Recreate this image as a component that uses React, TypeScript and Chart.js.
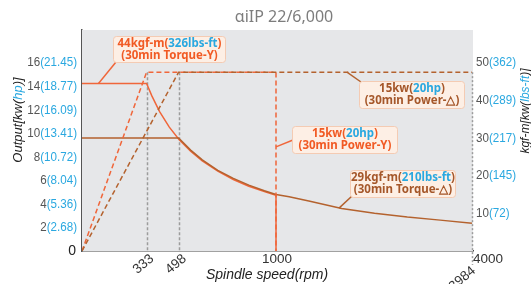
import React, { useEffect, useRef } from "react";
import { Chart, registerables, LinearScale } from "chart.js";

// ---------------- DATA ----------------
const chartTitle = "αiIP 22/6,000";

// 30min Torque-Y (kgf-m) vs spindle speed (rpm)
const speedTorqueY = [0, 333, 360, 400, 450, 500, 560, 620, 700, 780, 860, 940, 1000, 1000];
const torqueY = [44.5, 44.5, 41.2, 37.0, 32.9, 29.6, 26.5, 23.9, 21.2, 19.0, 17.2, 15.8, 14.8, 0];

// 30min Torque-Δ (kgf-m)
const speedTorqueD = [0, 498, 560, 620, 700, 780, 860, 940, 1000, 1200, 1500, 2000, 2500, 3000, 3500, 3984];
const torqueD = [30, 30, 26.8, 24.2, 21.4, 19.3, 17.5, 16.0, 15.0, 14.4, 13.3, 11.3, 10.0, 9.0, 8.2, 7.4];

// 30min Power-Y (kW)
const speedPowerY = [0, 333, 1000, 1000];
const powerY = [0, 15.2, 15.2, 0];

// 30min Power-Δ (kW)
const speedPowerD = [0, 498, 3984];
const powerD = [0, 15.2, 15.2];

// marker speeds (gray verticals)
const markerSpeeds = [333, 498, 3984];
const markerTop = 15.2;

// tick labels
const leftTicks = [2, 4, 6, 8, 10, 12, 14, 16];
const leftTicksHp = ["2.68", "5.36", "8.04", "10.72", "13.41", "16.09", "18.77", "21.45"];
const rightTicks = [10, 20, 30, 40, 50];
const rightTicksLbs = ["72", "145", "217", "289", "362"];
const xTicks = [333, 498, 1000, 3984, 4000];

// annotation texts
const annTorqueY = ["44kgf-m", "326lbs-ft", "(30min Torque-Y)"];
const annPowerD = ["15kw", "20hp", "(30min Power-△)"];
const annPowerY = ["15kw", "20hp", "(30min Power-Y)"];
const annTorqueD = ["29kgf-m", "210lbs-ft", "(30min Torque-△)"];

// ---------------- STYLE ----------------
const ORANGE = "#f0663a";
const BROWN = "#b4622e";
const ORANGE_TXT = "#f15a24";
const BROWN_TXT = "#a5572a";
const BLUE = "#2aa8e0";
const GRAY_TXT = "#555555";
const BG = "#e6e7e9";
const SPLIT = 194 / 391;
const NARROW = 0.86;

class SplitScale extends LinearScale {
  static id = "split";
  static defaults = { ticks: { callback: (v: any) => String(v) } };
  getPixelForValue(value: number) {
    if (value === null || value === undefined || isNaN(value)) return NaN;
    const f = value <= 1000 ? (value / 1000) * SPLIT : SPLIT + ((value - 1000) / 3000) * (1 - SPLIT);
    return this.getPixelForDecimal(f);
  }
  getValueForPixel(pixel: number) {
    const f = this.getDecimalForPixel(pixel);
    return f <= SPLIT ? (f / SPLIT) * 1000 : 1000 + ((f - SPLIT) / (1 - SPLIT)) * 3000;
  }
}

Chart.register(...registerables, SplitScale);

const pts = (xs: number[], ys: number[]) => xs.map((x, i) => ({ x, y: ys[i] }));

type Part = [string, string];
function drawRich(ctx: CanvasRenderingContext2D, parts: Part[], x: number, y: number, align: "left" | "right" | "center", sx = 1) {
  const total = parts.reduce((s, p) => s + ctx.measureText(p[0]).width, 0) * sx;
  const start = align === "left" ? x : align === "right" ? x - total : x - total / 2;
  ctx.save();
  ctx.translate(start, y);
  ctx.scale(sx, 1);
  ctx.textAlign = "left";
  let cx = 0;
  for (const [t, c] of parts) {
    ctx.fillStyle = c;
    ctx.fillText(t, cx, 0);
    cx += ctx.measureText(t).width;
  }
  ctx.restore();
}

function roundRect(ctx: CanvasRenderingContext2D, x: number, y: number, w: number, h: number, r: number) {
  ctx.beginPath();
  ctx.moveTo(x + r, y);
  ctx.lineTo(x + w - r, y);
  ctx.arcTo(x + w, y, x + w, y + r, r);
  ctx.lineTo(x + w, y + h - r);
  ctx.arcTo(x + w, y + h, x + w - r, y + h, r);
  ctx.lineTo(x + r, y + h);
  ctx.arcTo(x, y + h, x, y + h - r, r);
  ctx.lineTo(x, y + r);
  ctx.arcTo(x, y, x + r, y, r);
  ctx.closePath();
}

const annotations = [
  { texts: annTorqueY, color: ORANGE_TXT, line: ORANGE, anchor: { x: 85, y: 44.5, axis: "y1" }, box: { x: 113, y: 36, w: 112, h: 26 }, end: { x: 116, y: 62 } },
  { texts: annPowerD, color: BROWN_TXT, line: BROWN, anchor: { x: 2080, y: 15.2, axis: "y" }, box: { x: 359, y: 81, w: 105, h: 27 }, end: { x: 361, y: 82 } },
  { texts: annPowerY, color: ORANGE_TXT, line: ORANGE, anchor: { x: 1000, y: 8.85, axis: "y" }, box: { x: 292, y: 126, w: 105, h: 27 }, end: { x: 293, y: 140 } },
  { texts: annTorqueD, color: BROWN_TXT, line: BROWN, anchor: { x: 1960, y: 11.4, axis: "y1" }, box: { x: 350, y: 170, w: 105, h: 27 }, end: { x: 352, y: 196 } },
];

const xTickLayout: Record<number, { rot: boolean; dx: number; dy: number; align: "left" | "right" | "center" }> = {
  333: { rot: true, dx: 5.5, dy: 6, align: "right" },
  498: { rot: true, dx: 6, dy: 6, align: "right" },
  1000: { rot: false, dx: 1, dy: 8, align: "center" },
  3984: { rot: true, dx: 2, dy: 18, align: "right" },
  4000: { rot: false, dx: 0, dy: 8, align: "left" },
};

const decorPlugin = {
  id: "decor",
  beforeDatasetsDraw(chart: any) {
    const { ctx, chartArea: a, scales } = chart;
    ctx.save();
    ctx.fillStyle = BG;
    ctx.fillRect(a.left, a.top, a.right - a.left, a.bottom - a.top);
    const x = scales.x, y = scales.y;
    markerSpeeds.forEach((s) => {
      const px = Math.round(x.getPixelForValue(s)) + 0.5;
      ctx.beginPath();
      ctx.strokeStyle = "#9c9c9c";
      ctx.lineWidth = 1.5;
      ctx.setLineDash(s === 3984 ? [2, 2] : [3, 2]);
      ctx.moveTo(px, y.getPixelForValue(markerTop));
      ctx.lineTo(px, s === 3984 ? a.bottom + 14 : a.bottom);
      ctx.stroke();
    });
    ctx.restore();
  },
  afterDraw(chart: any) {
    const { ctx, chartArea: a, scales } = chart;
    const x = scales.x, y = scales.y, y1 = scales.y1;
    ctx.save();
    ctx.textBaseline = "middle";
    // title
    ctx.font = '16px "Noto Sans", sans-serif';
    ctx.fillStyle = "#7d7d7d";
    ctx.textAlign = "center";
    ctx.fillText(chartTitle, 284, 17);

    // left ticks
    ctx.font = '13.5px "Liberation Sans", sans-serif';
    leftTicks.forEach((v, i) => {
      drawRich(ctx, [[String(v), GRAY_TXT], ["(" + leftTicksHp[i] + ")", BLUE]], 77, y.getPixelForValue(v), "right", NARROW);
    });
    ctx.font = '14px "Liberation Sans", sans-serif';
    ctx.fillStyle = "#222";
    ctx.textAlign = "right";
    ctx.fillText("0", 76, y.getPixelForValue(0));

    // right ticks
    ctx.font = '13.5px "Liberation Sans", sans-serif';
    rightTicks.forEach((v, i) => {
      drawRich(ctx, [[String(v), GRAY_TXT], ["(" + rightTicksLbs[i] + ")", BLUE]], 476, y1.getPixelForValue(v), "left", NARROW);
    });

    // x ticks
    ctx.font = '13.5px "Liberation Sans", sans-serif';
    ctx.fillStyle = "#333";
    xTicks.forEach((v) => {
      const L = xTickLayout[v];
      const px = x.getPixelForValue(v) + L.dx;
      const py = a.bottom + L.dy;
      ctx.save();
      ctx.translate(px, py);
      if (L.rot) ctx.rotate((-40 * Math.PI) / 180);
      ctx.textAlign = L.align;
      ctx.fillText(String(v), 0, 0);
      ctx.restore();
    });

    // axis titles
    ctx.font = 'italic 14px "Liberation Sans", sans-serif';
    drawRich(ctx, [["Spindle speed(rpm)", "#222"]], 267, 275, "center");

    ctx.font = 'italic 13px "Liberation Sans", sans-serif';
    ctx.save();
    ctx.translate(18, 120);
    ctx.rotate(-Math.PI / 2);
    drawRich(ctx, [["Output[kw(", "#222"], ["hp", BLUE], [")]", "#222"]], 0, 0, "center");
    ctx.restore();

    ctx.save();
    ctx.translate(525, 111);
    ctx.rotate(-Math.PI / 2);
    drawRich(ctx, [["kgf-m[kw(", "#222"], ["lbs-ft", BLUE], [")]", "#222"]], 0, 0, "center", 0.92);
    ctx.restore();

    // annotations
    annotations.forEach((an) => {
      const sc = an.anchor.axis === "y1" ? y1 : y;
      const ax = x.getPixelForValue(an.anchor.x);
      const ay = sc.getPixelForValue(an.anchor.y);
      ctx.beginPath();
      ctx.strokeStyle = an.line;
      ctx.lineWidth = 1.5;
      ctx.setLineDash([]);
      ctx.moveTo(ax, ay);
      ctx.lineTo(an.end.x, an.end.y);
      ctx.stroke();
      const b = an.box;
      roundRect(ctx, b.x + 0.5, b.y + 0.5, b.w, b.h, 3);
      ctx.fillStyle = "#fdefe5";
      ctx.fill();
      ctx.strokeStyle = "#f4cbb3";
      ctx.lineWidth = 1;
      ctx.stroke();
      ctx.font = 'bold 11.5px "Noto Sans", sans-serif';
      const cx = b.x + b.w / 2 + 0.5;
      drawRich(ctx, [[an.texts[0] + "(", an.color], [an.texts[1], BLUE], [")", an.color]], cx, b.y + 8, "center");
      drawRich(ctx, [[an.texts[2], an.color]], cx, b.y + 20, "center");
    });
    ctx.restore();
  },
};

export default function App() {
  const ref = useRef<HTMLCanvasElement | null>(null);
  useEffect(() => {
    if (!ref.current) return;
    const chart = new Chart(ref.current, {
      type: "line",
      data: {
        datasets: [
          { data: pts(speedPowerD, powerD), yAxisID: "y", borderColor: BROWN, borderWidth: 1.5, borderDash: [5, 3], pointRadius: 0, tension: 0, fill: false },
          { data: pts(speedPowerY, powerY), yAxisID: "y", borderColor: ORANGE, borderWidth: 1.5, borderDash: [5, 3], pointRadius: 0, tension: 0, fill: false },
          { data: pts(speedTorqueD, torqueD), yAxisID: "y1", borderColor: BROWN, borderWidth: 1.5, pointRadius: 0, tension: 0, fill: false },
          { data: pts(speedTorqueY, torqueY), yAxisID: "y1", borderColor: ORANGE, borderWidth: 1.5, pointRadius: 0, tension: 0, fill: false },
        ],
      },
      options: {
        animation: false,
        responsive: false,
        parsing: false as any,
        layout: { padding: { top: 30 } },
        plugins: { legend: { display: false }, tooltip: { enabled: false }, title: { display: false } },
        scales: {
          x: {
            type: "split" as any,
            min: 0,
            max: 4000,
            grid: { display: false },
            ticks: { display: false },
            border: { display: true, color: "#444", width: 1.5 },
            afterFit: (s: any) => { s.height = 33; },
          },
          y: {
            type: "linear",
            position: "left",
            min: 0,
            max: 18.78,
            grid: { display: false },
            ticks: { display: false },
            border: { display: true, color: "#555", width: 1.5 },
            afterFit: (s: any) => { s.width = 82; },
          },
          y1: {
            type: "linear",
            position: "right",
            min: 0,
            max: 58.7,
            grid: { display: false },
            ticks: { display: false },
            border: { display: false },
            afterFit: (s: any) => { s.width = 58; },
          },
        },
      },
      plugins: [decorPlugin],
    });
    return () => chart.destroy();
  }, []);
  return (
    <div style={{ position: "absolute", left: 0, top: 0, width: 531, height: 284, background: "#fff" }}>
      <canvas ref={ref} width={531} height={284} style={{ display: "block" }} />
    </div>
  );
}
